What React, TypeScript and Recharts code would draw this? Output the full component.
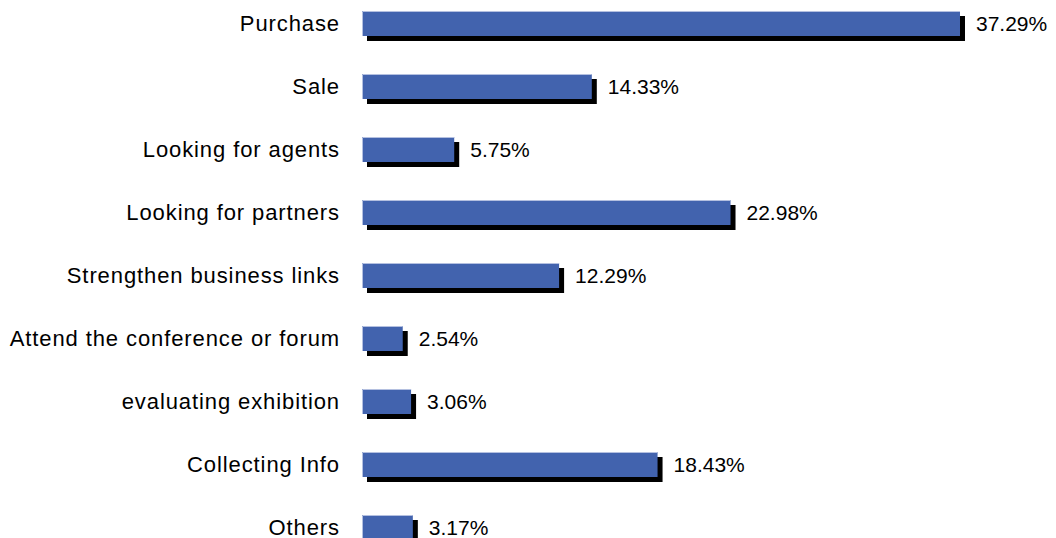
import React from "react";
import { BarChart, Bar, XAxis, YAxis, LabelList } from "recharts";

const categories = [
  "Purchase",
  "Sale",
  "Looking for agents",
  "Looking for partners",
  "Strengthen business links",
  "Attend the conference or forum",
  "evaluating exhibition",
  "Collecting Info",
  "Others",
];

const shares = [37.29, 14.33, 5.75, 22.98, 12.29, 2.54, 3.06, 18.43, 3.17];

const data = categories.map((name, i) => ({ name, value: shares[i] }));

const BLUE = "#4263ae";
const FONT = '"Liberation Sans", Arial, sans-serif';

// ---- bar with offset black drop shadow ----
function ShadowBar(props: any) {
  const { x, y, width, height } = props;
  if (!width || width <= 0) return null;
  return (
    <g>
      <rect x={x + 5} y={y + 5} width={width} height={height} fill="#000" />
      <rect x={x} y={y} width={width} height={height} fill={BLUE} />
      <path
        d={`M${x + 0.5},${y + height} L${x + 0.5},${y + 0.5} L${x + width},${y + 0.5}`}
        stroke="#b4c0e0"
        strokeWidth={1}
        fill="none"
      />
    </g>
  );
}

export default function App() {
  return (
    <div
      style={{
        position: "fixed",
        left: 0,
        top: 0,
        width: 1056,
        height: 538,
        overflow: "hidden",
        background: "#fff",
      }}
    >
      <div style={{ marginTop: -8 }}>
        <BarChart
          width={1056}
          height={567}
          data={data}
          layout="vertical"
          barSize={25}
          margin={{ top: 0, right: 96, bottom: 0, left: 0 }}
        >
          <XAxis type="number" hide domain={[0, 37.29]} />
          <YAxis
            type="category"
            dataKey="name"
            width={362}
            tickLine={false}
            axisLine={false}
            tickSize={0}
            tickMargin={22}
            interval={0}
            tick={{ fontSize: 22, fill: "#000", fontFamily: FONT, letterSpacing: 0.9 }}
          />
          <Bar dataKey="value" shape={<ShadowBar />} isAnimationActive={false}>
            <LabelList
              dataKey="value"
              position="right"
              offset={16}
              formatter={(v: any) => `${Number(v).toFixed(2)}%`}
              style={{ fontSize: 21, fill: "#000", fontFamily: FONT }}
            />
          </Bar>
        </BarChart>
      </div>
    </div>
  );
}
